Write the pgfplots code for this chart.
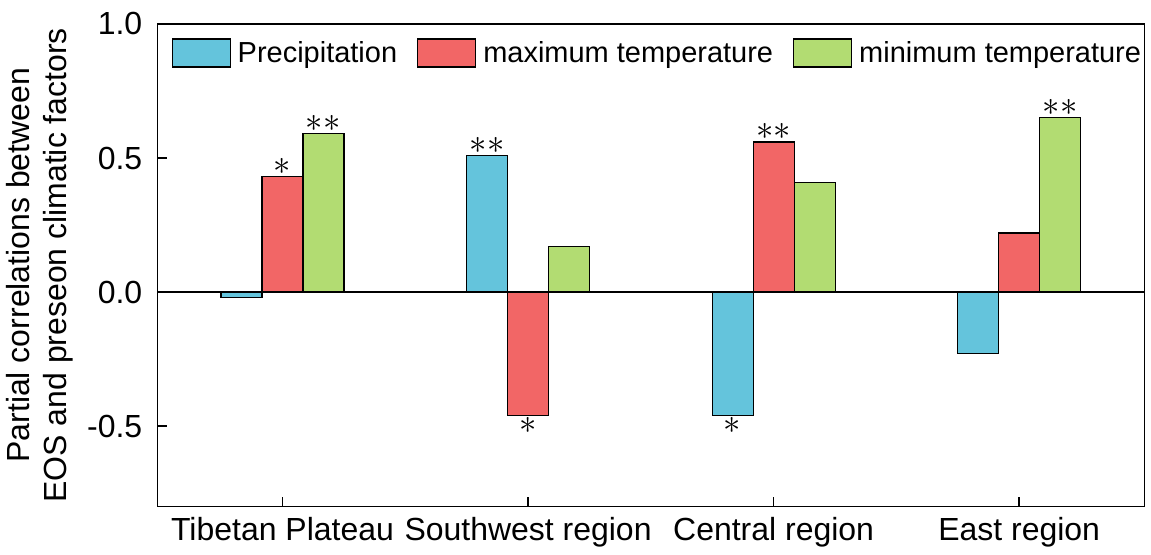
\documentclass[border=0pt]{standalone}
\usepackage{pgfplots}
\pgfplotsset{compat=1.18}
\usepackage{fontspec}
\setmainfont{Liberation Sans}
\definecolor{cblue}{RGB}{100,196,220}
\definecolor{cred}{RGB}{242,102,102}
\definecolor{cgreen}{RGB}{178,220,114}
\newcommand{\st}{$\ast$}
\newcommand{\stst}{$\ast$\kern0.3pt$\ast$}
\begin{document}
\begin{tikzpicture}
\begin{axis}[
  scale only axis,
  width=494pt, height=241.5pt,
  xmin=-0.51, xmax=3.51,
  ymin=-0.8, ymax=1.0,
  ybar=0pt,
  bar width=0.167,
  xtick={0,1,2,3},
  xticklabels={Tibetan Plateau, Southwest region, Central region, East region},
  ytick={-0.5,0,0.5,1.0},
  yticklabel style={/pgf/number format/fixed, /pgf/number format/fixed zerofill, /pgf/number format/precision=1, xshift=-4pt},
  /pgf/number format/assume math mode=true,
  tick align=inside,
  xtick pos=bottom, ytick pos=left,
  major tick length=5pt,
  tick style={black, line width=0.75pt},
  axis line style={black, line width=0.75pt},
  ticklabel style={font=\fontsize{16}{19}\selectfont},
  xticklabel style={yshift=-2pt},
  ylabel={Partial correlations between\\EOS and preseon climatic factors},
  ylabel style={align=center, font=\fontsize{16}{18.5}\selectfont},
  extra y ticks={0},
  extra y tick labels={},
  extra y tick style={grid=major, major grid style={black, line width=0.6pt}, major tick length=0pt},
  legend columns=3,
  legend style={at={(0.008,0.982)}, anchor=north west, draw=none, fill=none,
    font=\fontsize{14.5}{17}\selectfont,
    /tikz/every even column/.append style={column sep=8pt},
    /tikz/every odd column/.append style={column sep=1.5pt}},
  legend image code/.code={\draw[#1, line width=0.6pt] (0pt,-7pt) rectangle (29pt,7pt);},
  point meta=explicit symbolic,
  visualization depends on={rawy \as \rawy},
  nodes near coords,
  nodes near coords style={font=\fontsize{19}{20}\selectfont, inner sep=0.8pt,
    anchor=\ifdim\rawy pt<0pt north\else south\fi},
]
\addplot[fill=cblue, draw=black, line width=0.6pt] coordinates {
  (0,-0.02) [] (1,0.51) [\stst] (2,-0.46) [\st] (3,-0.23) []};
\addplot[fill=cred, draw=black, line width=0.6pt] coordinates {
  (0,0.43) [\st] (1,-0.46) [\st] (2,0.56) [\stst] (3,0.22) []};
\addplot[fill=cgreen, draw=black, line width=0.6pt] coordinates {
  (0,0.59) [\stst] (1,0.17) [] (2,0.41) [] (3,0.65) [\stst]};
\legend{Precipitation, maximum temperature, minimum temperature}
\end{axis}
\path ([yshift=12pt]current axis.north);
\end{tikzpicture}
\end{document}
